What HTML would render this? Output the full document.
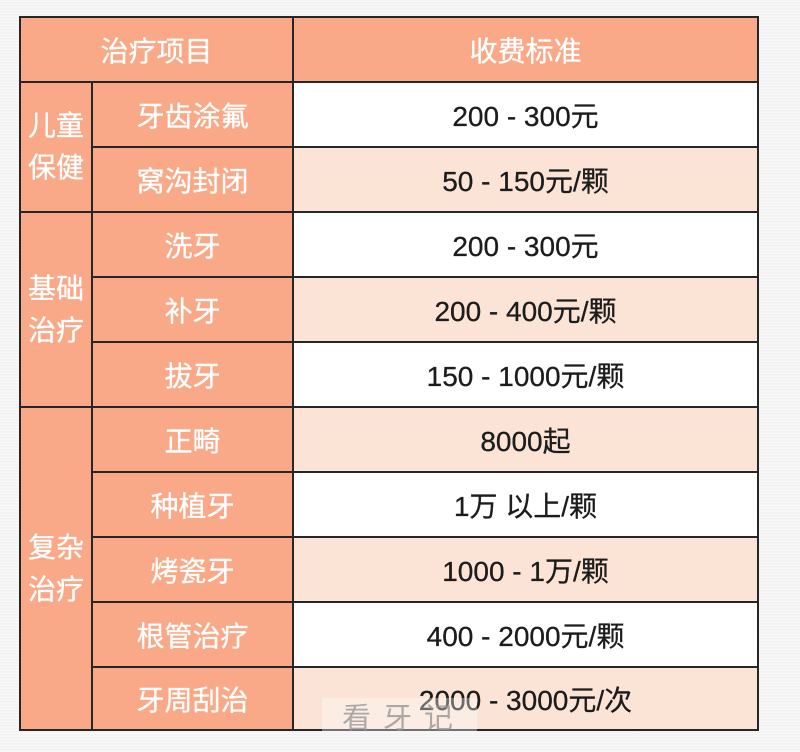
<!DOCTYPE html>
<html>
<head>
<meta charset="utf-8">
<style>
  html,body{margin:0;padding:0;}
  body{width:800px;height:752px;position:relative;overflow:hidden;
    background:#f3f3f3;
    background-image:repeating-linear-gradient(0deg, rgba(255,255,255,0.5) 0px, rgba(255,255,255,0.5) 1px, rgba(230,230,230,0.25) 2px, rgba(240,240,240,0.0) 3px);
    font-family:"Liberation Sans","Noto Sans CJK SC",sans-serif;}
  .cell{position:absolute;display:flex;align-items:center;justify-content:center;box-sizing:border-box;-webkit-text-stroke:0.3px currentColor;}
  .sal{background:#f9a988;color:#fff;}
  .lt{background:#fbe4d6;color:#1c1c1c;}
  .wh{background:#ffffff;color:#1c1c1c;}
  .hd{font-size:28px;}
  .it{font-size:28px;}
  .pr{font-size:28px;}
  .cat{font-size:28px;line-height:42px;text-align:center;flex-direction:column;}
  .hl{position:absolute;height:2px;background:#262626;}
  .vl{position:absolute;width:2px;background:#262626;}
  .wm{position:absolute;left:322px;top:698px;width:155px;height:34px;background:rgba(255,255,255,0.35);}
  .wmt{position:absolute;left:342px;top:698px;height:36px;line-height:36px;font-size:29px;color:rgba(150,150,150,0.8);letter-spacing:12px;white-space:nowrap;font-family:"Noto Sans CJK SC",sans-serif;}
</style>
</head>
<body>
<!-- header -->
<div class="cell sal hd" style="left:20px;top:17px;width:273px;height:65px;">治疗项目</div>
<div class="cell sal hd" style="left:293px;top:17px;width:465px;height:65px;">收费标准</div>

<!-- category column -->
<div class="cell sal cat" style="left:20px;top:82px;width:72px;height:130px;"><div>儿童</div><div>保健</div></div>
<div class="cell sal cat" style="left:20px;top:212px;width:72px;height:195px;"><div>基础</div><div>治疗</div></div>
<div class="cell sal cat" style="left:20px;top:407px;width:72px;height:324px;"><div>复杂</div><div>治疗</div></div>

<!-- items -->
<div class="cell sal it" style="left:92px;top:82px;width:201px;height:65px;">牙齿涂氟</div>
<div class="cell sal it" style="left:92px;top:147px;width:201px;height:65px;">窝沟封闭</div>
<div class="cell sal it" style="left:92px;top:212px;width:201px;height:65px;">洗牙</div>
<div class="cell sal it" style="left:92px;top:277px;width:201px;height:65px;">补牙</div>
<div class="cell sal it" style="left:92px;top:342px;width:201px;height:65px;">拔牙</div>
<div class="cell sal it" style="left:92px;top:407px;width:201px;height:65px;">正畸</div>
<div class="cell sal it" style="left:92px;top:472px;width:201px;height:65px;">种植牙</div>
<div class="cell sal it" style="left:92px;top:537px;width:201px;height:65px;">烤瓷牙</div>
<div class="cell sal it" style="left:92px;top:602px;width:201px;height:65px;">根管治疗</div>
<div class="cell sal it" style="left:92px;top:667px;width:201px;height:64px;">牙周刮治</div>

<!-- prices -->
<div class="cell wh pr" style="left:293px;top:82px;width:465px;height:65px;">200 - 300元</div>
<div class="cell lt pr" style="left:293px;top:147px;width:465px;height:65px;">50 - 150元/颗</div>
<div class="cell wh pr" style="left:293px;top:212px;width:465px;height:65px;">200 - 300元</div>
<div class="cell lt pr" style="left:293px;top:277px;width:465px;height:65px;">200 - 400元/颗</div>
<div class="cell wh pr" style="left:293px;top:342px;width:465px;height:65px;">150 - 1000元/颗</div>
<div class="cell lt pr" style="left:293px;top:407px;width:465px;height:65px;">8000起</div>
<div class="cell wh pr" style="left:293px;top:472px;width:465px;height:65px;">1万 以上/颗</div>
<div class="cell lt pr" style="left:293px;top:537px;width:465px;height:65px;">1000 - 1万/颗</div>
<div class="cell wh pr" style="left:293px;top:602px;width:465px;height:65px;">400 - 2000元/颗</div>
<div class="cell lt pr" style="left:293px;top:667px;width:465px;height:64px;">2000 - 3000元/次</div>

<!-- outer border -->
<div class="hl" style="left:19px;top:16px;width:740px;"></div>
<div class="hl" style="left:19px;top:729px;width:740px;"></div>
<div class="vl" style="left:19px;top:16px;height:715px;"></div>
<div class="vl" style="left:757px;top:16px;height:715px;"></div>

<!-- header bottom -->
<div class="hl" style="left:19px;top:81px;width:740px;"></div>
<!-- group separators (full width) -->
<div class="hl" style="left:19px;top:211px;width:740px;"></div>
<div class="hl" style="left:19px;top:406px;width:740px;"></div>
<!-- row separators (from item col) -->
<div class="hl" style="left:91px;top:146px;width:668px;"></div>
<div class="hl" style="left:91px;top:276px;width:668px;"></div>
<div class="hl" style="left:91px;top:341px;width:668px;"></div>
<div class="hl" style="left:91px;top:471px;width:668px;"></div>
<div class="hl" style="left:91px;top:536px;width:668px;"></div>
<div class="hl" style="left:91px;top:601px;width:668px;"></div>
<div class="hl" style="left:91px;top:666px;width:668px;"></div>

<!-- vertical dividers -->
<div class="vl" style="left:91px;top:81px;height:650px;"></div>
<div class="vl" style="left:292px;top:16px;height:715px;"></div>

<!-- watermark -->
<div class="wm"></div>
<div class="wmt">看牙记</div>
</body>
</html>
